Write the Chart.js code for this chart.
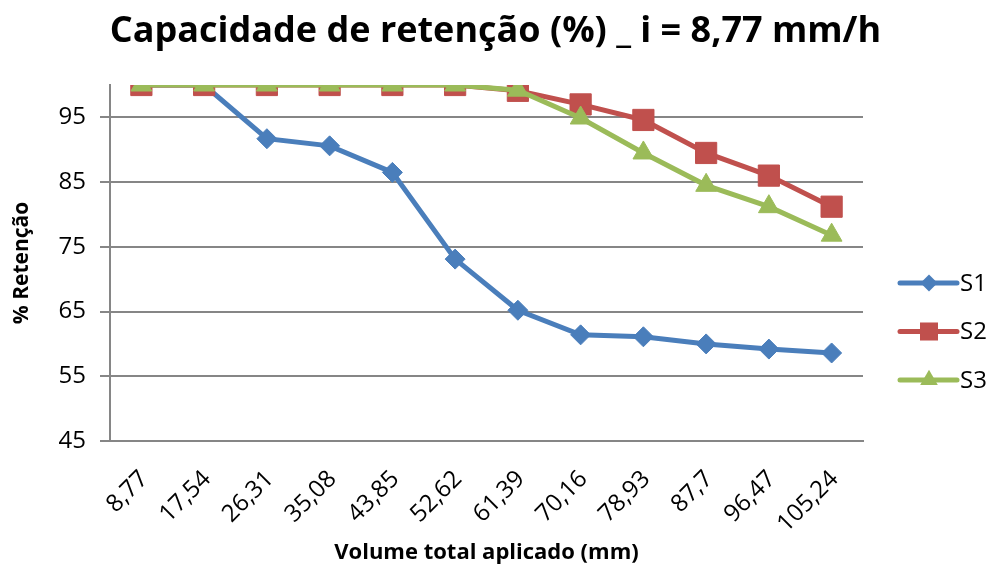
<!DOCTYPE html>
<html>
<head>
<meta charset="utf-8">
<script src="https://cdn.jsdelivr.net/npm/chart.js@4.4.1/dist/chart.umd.min.js"></script>
<style>
  html, body { margin: 0; padding: 0; background: #fff; }
  canvas { display: block; }
</style>
</head>
<body>
<canvas id="retChart" width="991" height="571"></canvas>
<script>
// data
const categories = ["8,77", "17,54", "26,31", "35,08", "43,85", "52,62", "61,39", "70,16", "78,93", "87,7", "96,47", "105,24"];
const s1 = [100, 100, 91.7, 90.6, 86.5, 73.1, 65.2, 61.4, 61.1, 60.0, 59.2, 58.6];
const s2 = [100, 100, 100, 100, 100, 100, 99.1, 97.0, 94.6, 89.5, 86.0, 81.2];
const s3 = [100, 100, 100, 100, 100, 100, 99.2, 94.9, 89.5, 84.5, 81.2, 76.8];
const yTicks = [45, 55, 65, 75, 85, 95];

const FONT = "'Open Sans', 'Liberation Sans', sans-serif";
const gridGray = "#868686";

Chart.defaults.font.family = FONT;
Chart.defaults.color = "#000";

function drawMarker(ctx, style, x, y, r, color) {
    ctx.fillStyle = color;
    ctx.beginPath();
    if (style === "rectRot") {
        ctx.moveTo(x, y - r); ctx.lineTo(x + r, y); ctx.lineTo(x, y + r); ctx.lineTo(x - r, y);
    } else if (style === "rect") {
        const h = r * Math.SQRT1_2;
        ctx.rect(x - h, y - h, 2 * h, 2 * h);
    } else {
        ctx.moveTo(x, y - r);
        ctx.lineTo(x + r * 0.866, y + r * 0.5);
        ctx.lineTo(x - r * 0.866, y + r * 0.5);
    }
    ctx.closePath();
    ctx.fill();
}

// legend drawn to the right of the plot, line with marker like Excel
const sideLegend = {
    id: "sideLegend",
    afterDraw(chart) {
        const ctx = chart.ctx;
        const area = chart.chartArea;
        const x0 = area.right + 37;
        ctx.save();
        chart.data.datasets.forEach((ds, i) => {
            const y = 283 + i * 48.5;
            ctx.strokeStyle = ds.borderColor;
            ctx.lineWidth = 5;
            ctx.lineCap = "round";
            ctx.beginPath();
            ctx.moveTo(x0, y);
            ctx.lineTo(x0 + 57, y);
            ctx.stroke();
            drawMarker(ctx, ds.pointStyle, x0 + 29, y, ds.pointRadius * 0.85, ds.pointBackgroundColor);
            ctx.fillStyle = "#000";
            ctx.font = "24px " + FONT;
            ctx.textBaseline = "middle";
            ctx.textAlign = "left";
            ctx.fillText(ds.label, x0 + 60, y + 1);
        });
        ctx.restore();
    }
};

function series(label, data, color, style, radius, order) {
    return {
        label: label,
        data: data,
        borderColor: color,
        backgroundColor: color,
        pointBackgroundColor: color,
        pointBorderColor: color,
        pointBorderWidth: 1,
        pointStyle: style,
        pointRadius: radius,
        borderWidth: 5,
        tension: 0,
        order: order
    };
}

new Chart(document.getElementById("retChart"), {
    type: "line",
    data: {
        labels: categories,
        datasets: [
            series("S1", s1, "#4A7EBB", "rectRot", 10, 2),
            series("S2", s2, "#C0504D", "rect", 15, 1),
            series("S3", s3, "#9BBB59", "triangle", 12, 0)
        ]
    },
    options: {
        responsive: false,
        animation: false,
        layout: { padding: 0 },
        plugins: {
            legend: { display: false },
            tooltip: { enabled: false },
            title: {
                display: true,
                text: "Capacidade de retenção (%) _ i = 8,77 mm/h",
                color: "#000",
                font: { size: 36, weight: "bold", family: FONT },
                padding: { top: 10, bottom: 31.8 }
            }
        },
        scales: {
            x: {
                type: "category",
                offset: true,
                grid: { display: false, drawTicks: false, tickLength: 0 },
                border: { display: true, color: gridGray, width: 2 },
                ticks: {
                    minRotation: 45,
                    maxRotation: 45,
                    autoSkip: false,
                    padding: 24,
                    labelOffset: 3,
                    font: { size: 24 }
                },
                title: {
                    display: true,
                    text: "Volume total aplicado (mm)",
                    font: { size: 22, weight: "bold" },
                    padding: { top: 0, bottom: 5 }
                },
                afterFit(scale) { scale.height = 130; }
            },
            y: {
                type: "linear",
                min: 45,
                max: 100,
                afterBuildTicks(scale) {
                    scale.ticks = yTicks.map(v => ({ value: v }));
                },
                grid: { color: gridGray, lineWidth: 2, tickLength: 10, drawTicks: true },
                border: { display: true, color: gridGray, width: 2 },
                ticks: { padding: 14, font: { size: 24 } },
                title: {
                    display: true,
                    text: "% Retenção",
                    font: { size: 21, weight: "bold" },
                    padding: { top: 9, bottom: 0 }
                },
                afterFit(scale) { scale.width = 110; }
            },
            // empty right axis only reserves the room where the legend goes
            legendRoom: {
                type: "linear",
                position: "right",
                grid: { display: false, drawTicks: false },
                border: { display: false },
                ticks: { display: false },
                afterFit(scale) { scale.width = 128; }
            }
        }
    },
    plugins: [sideLegend]
});
</script>
</body>
</html>
